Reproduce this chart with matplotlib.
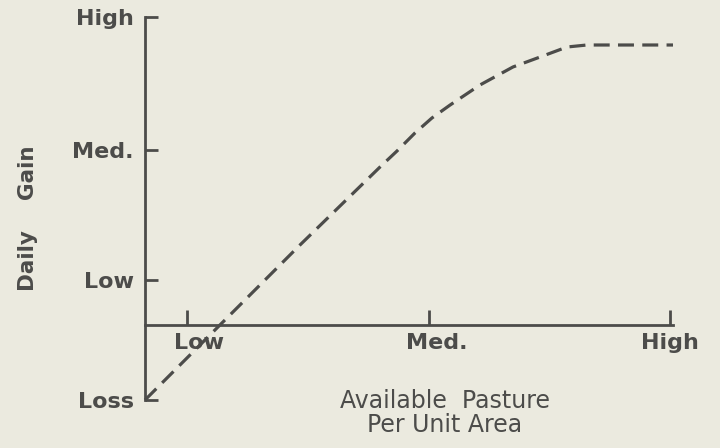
import matplotlib
matplotlib.use("Agg")
import matplotlib.pyplot as plt

# Data (relative units)
pasture = [0.827, 1.136, 1.466, 1.796, 1.866, 1.940, 2.010, 2.085, 2.208, 2.344, 2.456, 2.567, 2.649, 3.004]
gain = [-0.75, 0.0, 0.80, 1.58, 1.74, 1.92, 2.07, 2.20, 2.40, 2.58, 2.68, 2.78, 2.80, 2.80]

x_tick_pos = [1.0, 2.0, 2.99]
x_tick_labels = ["Low", "Med.", "High"]
y_tick_pos = [-0.75, 0.45, 1.75, 3.08]
y_tick_labels = ["Loss", "Low", "Med.", "High"]

bg = "#ebeadf"
ink = "#4c4c4a"

fig = plt.figure(figsize=(7.2, 4.48), dpi=100, facecolor=bg)
ax = fig.add_axes([145/720, 48/448, 528/720, 383/448])
ax.set_facecolor(bg)

ax.plot(pasture, gain, color=ink, lw=2.3, linestyle=(0, (5, 2.6)),
        dash_capstyle="butt", solid_capstyle="butt", clip_on=False)

ax.set_xlim(0.827, 3.004)
ax.set_ylim(-0.75, 3.08)

for s in ["top", "right"]:
    ax.spines[s].set_visible(False)
ax.spines["left"].set_color(ink)
ax.spines["left"].set_linewidth(2.0)
ax.spines["bottom"].set_color(ink)
ax.spines["bottom"].set_linewidth(2.0)
ax.spines["bottom"].set_position(("data", 0))

ax.set_xticks(x_tick_pos)
ax.set_xticklabels(x_tick_labels)
ax.set_yticks(y_tick_pos)
ax.set_yticklabels(y_tick_labels)

ax.tick_params(axis="x", direction="in", length=11, width=2.0, color=ink,
               pad=6, labelsize=16, labelcolor=ink)
ax.tick_params(axis="y", direction="in", length=9, width=2.0, color=ink,
               pad=8, labelsize=16, labelcolor=ink)
for lab in ax.get_xticklabels() + ax.get_yticklabels():
    lab.set_fontweight("bold")
    lab.set_family("DejaVu Sans")
# the printed "Low" label sits slightly right of its tick
import matplotlib.transforms as mtransforms
xl = ax.get_xticklabels()
xl[0].set_transform(xl[0].get_transform() + mtransforms.ScaledTranslation(12/100, 0, fig.dpi_scale_trans))
xl[1].set_transform(xl[1].get_transform() + mtransforms.ScaledTranslation(7/100, 0, fig.dpi_scale_trans))

fig.text(28/720, 1 - 218/448, "Daily    Gain", rotation=90, ha="center", va="center",
         fontsize=15.5, fontweight="bold", color=ink)
fig.text(445/720, 1 - 413/448, "Available  Pasture\nPer Unit Area", ha="center", va="center",
         fontsize=17, color=ink, linespacing=1.05)

fig.savefig("out.png", dpi=100, facecolor=bg)
